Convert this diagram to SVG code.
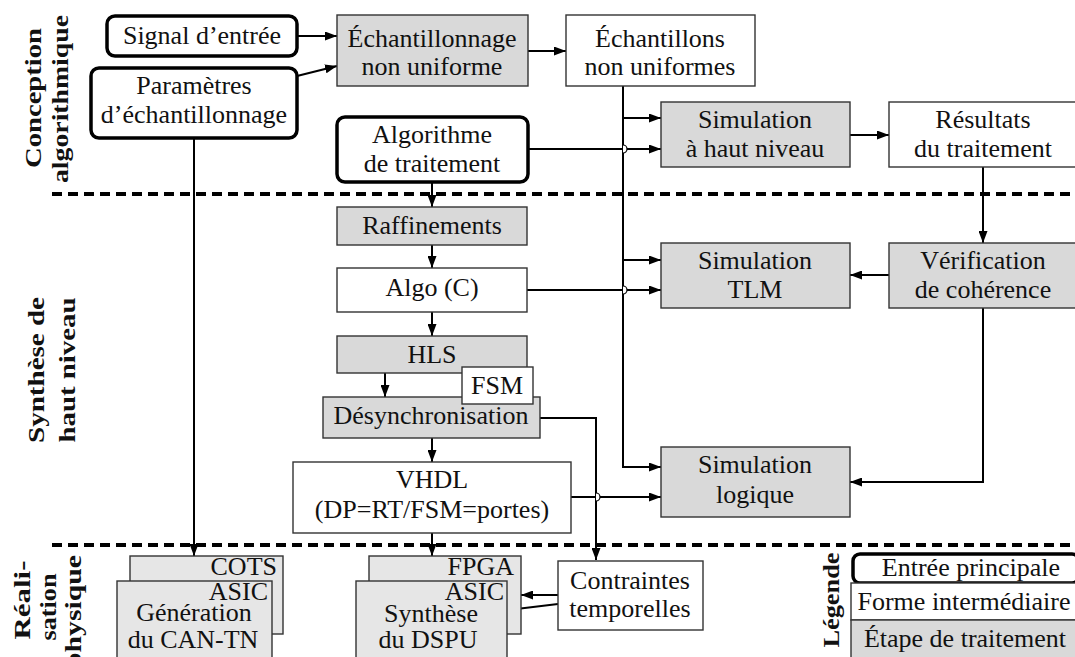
<svg xmlns="http://www.w3.org/2000/svg" width="1075" height="657" viewBox="0 0 1075 657" font-family="'Liberation Serif', 'Times New Roman', serif">
  <style>
    text { font-family: "Liberation Serif", "Times New Roman", serif; font-size: 26px; fill: #111; }
    .c { text-anchor: middle; }
    .r { text-anchor: end; }
    .lbl { font-weight: bold; text-anchor: middle; font-size: 24px; }
    .main { fill: #fff; stroke: #000; stroke-width: 3.5; }
    .inter { fill: #fff; stroke: #333; stroke-width: 1.4; }
    .step { fill: #d9d9d9; stroke: #333; stroke-width: 1.4; }
    .stack { fill: #e6e6e6; stroke: #333; stroke-width: 1.4; }
    .sep { stroke: #000; stroke-width: 4; stroke-dasharray: 10 6; fill: none; }
    .wire { fill: none; stroke: #000; stroke-width: 2; }
    .hop { fill: #fff; stroke: #000; stroke-width: 1.2; }
  </style>
  <defs>
    <marker id="ah" viewBox="0 0 12 9" markerWidth="12" markerHeight="9" refX="12" refY="4.5" orient="auto" markerUnits="userSpaceOnUse">
      <path d="M0,0 L12,4.5 L0,9 z" fill="#000"/>
    </marker>
  </defs>

  <!-- phase separators -->
  <g id="separators">
    <line class="sep" x1="52" y1="194" x2="1075" y2="194"/>
    <line class="sep" x1="52" y1="545" x2="1075" y2="545"/>
  </g>

  <!-- phase labels -->
  <g id="phase-labels">
    <text class="lbl" transform="translate(41,98) rotate(-90)" textLength="140" lengthAdjust="spacingAndGlyphs">Conception</text>
    <text class="lbl" transform="translate(68,99) rotate(-90)" textLength="168" lengthAdjust="spacingAndGlyphs">algorithmique</text>
    <text class="lbl" transform="translate(44,370) rotate(-90)" textLength="146" lengthAdjust="spacingAndGlyphs">Synthèse de</text>
    <text class="lbl" transform="translate(75,370) rotate(-90)" textLength="145" lengthAdjust="spacingAndGlyphs">haut niveau</text>
    <text class="lbl" transform="translate(30,600) rotate(-90)" textLength="79" lengthAdjust="spacingAndGlyphs">Réali-</text>
    <text class="lbl" transform="translate(56,607) rotate(-90)" textLength="67" lengthAdjust="spacingAndGlyphs">sation</text>
    <text class="lbl" transform="translate(81,612) rotate(-90)" textLength="114" lengthAdjust="spacingAndGlyphs">physique</text>
    <text class="lbl" transform="translate(839,600) rotate(-90)" textLength="95" lengthAdjust="spacingAndGlyphs">Légende</text>
  </g>

  <!-- connectors -->
  <g id="connectors">
    <line class="wire" x1="297" y1="36" x2="337" y2="36" marker-end="url(#ah)"/>
    <line class="wire" x1="297" y1="76" x2="337" y2="66" marker-end="url(#ah)"/>
    <line class="wire" x1="528" y1="51" x2="566" y2="51" marker-end="url(#ah)"/>
    <polyline class="wire" points="623,86 623,467 661,467" marker-end="url(#ah)"/>
    <line class="wire" x1="623" y1="118" x2="661" y2="118" marker-end="url(#ah)"/>
    <line class="wire" x1="623" y1="260" x2="661" y2="260" marker-end="url(#ah)"/>
    <line class="wire" x1="528" y1="149" x2="661" y2="149" marker-end="url(#ah)"/>
    <line class="wire" x1="850" y1="135" x2="889" y2="135" marker-end="url(#ah)"/>
    <line class="wire" x1="983" y1="167" x2="983" y2="243" marker-end="url(#ah)"/>
    <line class="wire" x1="889" y1="275" x2="850" y2="275" marker-end="url(#ah)"/>
    <polyline class="wire" points="983,308 983,482 850,482" marker-end="url(#ah)"/>
    <line class="wire" x1="432" y1="183" x2="432" y2="207" marker-end="url(#ah)"/>
    <line class="wire" x1="432" y1="245" x2="432" y2="268" marker-end="url(#ah)"/>
    <line class="wire" x1="527" y1="290" x2="661" y2="290" marker-end="url(#ah)"/>
    <line class="wire" x1="432" y1="312" x2="432" y2="336" marker-end="url(#ah)"/>
    <line class="wire" x1="385" y1="373" x2="385" y2="397" marker-end="url(#ah)"/>
    <polyline class="wire" points="540,418 596,418 596,560" marker-end="url(#ah)"/>
    <line class="wire" x1="432" y1="438" x2="432" y2="462" marker-end="url(#ah)"/>
    <line class="wire" x1="571" y1="497" x2="661" y2="497" marker-end="url(#ah)"/>
    <line class="wire" x1="432" y1="533" x2="432" y2="556" marker-end="url(#ah)"/>
    <line class="wire" x1="194" y1="138" x2="194" y2="556" marker-end="url(#ah)"/>
    <line class="wire" x1="558" y1="595" x2="521" y2="595" marker-end="url(#ah)"/>
    <line class="wire" x1="558" y1="604" x2="508" y2="610" marker-end="url(#ah)"/>
    <!-- line hops at crossings -->
    <path class="hop" d="M623,145 A4,4 0 0 1 623,153"/>
    <path class="hop" d="M623,286 A4,4 0 0 1 623,294"/>
    <path class="hop" d="M596,493 A4,4 0 0 1 596,501"/>
  </g>

  <!-- algorithm design phase -->
  <g id="signal-entree">
    <rect class="main" x="107" y="16" width="190" height="40" rx="8"/>
    <text class="c" x="202" y="44">Signal d’entrée</text>
  </g>
  <g id="parametres">
    <rect class="main" x="91" y="68" width="206" height="70" rx="8"/>
    <text class="c" x="194" y="94">Paramètres</text>
    <text class="c" x="194" y="123">d’échantillonnage</text>
  </g>
  <g id="echantillonnage">
    <rect class="step" x="337" y="15" width="191" height="71"/>
    <text class="c" x="432" y="47">Échantillonnage</text>
    <text class="c" x="432" y="75">non uniforme</text>
  </g>
  <g id="echantillons">
    <rect class="inter" x="566" y="15" width="189" height="71"/>
    <text class="c" x="660" y="47">Échantillons</text>
    <text class="c" x="660" y="75">non uniformes</text>
  </g>
  <g id="algorithme">
    <rect class="main" x="337" y="117" width="191" height="65" rx="8"/>
    <text class="c" x="432" y="143">Algorithme</text>
    <text class="c" x="432" y="172">de traitement</text>
  </g>
  <g id="sim-haut-niveau">
    <rect class="step" x="661" y="102" width="189" height="65"/>
    <text class="c" x="755" y="128">Simulation</text>
    <text class="c" x="755" y="157">à haut niveau</text>
  </g>
  <g id="resultats">
    <rect class="inter" x="889" y="102" width="189" height="65"/>
    <text class="c" x="983" y="128">Résultats</text>
    <text class="c" x="983" y="157">du traitement</text>
  </g>

  <!-- high level synthesis phase -->
  <g id="raffinements">
    <rect class="step" x="337" y="207" width="190" height="38"/>
    <text class="c" x="432" y="234">Raffinements</text>
  </g>
  <g id="algo-c">
    <rect class="inter" x="337" y="268" width="190" height="44"/>
    <text class="c" x="432" y="296">Algo (C)</text>
  </g>
  <g id="hls">
    <rect class="step" x="337" y="336" width="190" height="37"/>
    <text class="c" x="432" y="363">HLS</text>
  </g>
  <g id="desynchronisation">
    <rect class="step" x="323" y="397" width="217" height="41"/>
    <text class="c" x="431" y="424">Désynchronisation</text>
  </g>
  <g id="fsm">
    <rect class="inter" x="462" y="367" width="71" height="37"/>
    <text class="c" x="497" y="394">FSM</text>
  </g>
  <g id="vhdl">
    <rect class="inter" x="293" y="462" width="278" height="71"/>
    <text class="c" x="432" y="488">VHDL</text>
    <text class="c" x="432" y="518">(DP=RT/FSM=portes)</text>
  </g>
  <g id="sim-tlm">
    <rect class="step" x="661" y="243" width="189" height="65"/>
    <text class="c" x="755" y="269">Simulation</text>
    <text class="c" x="755" y="298">TLM</text>
  </g>
  <g id="verification">
    <rect class="step" x="889" y="243" width="189" height="65"/>
    <text class="c" x="983" y="269">Vérification</text>
    <text class="c" x="983" y="298">de cohérence</text>
  </g>
  <g id="sim-logique">
    <rect class="step" x="661" y="447" width="189" height="70"/>
    <text class="c" x="755" y="473">Simulation</text>
    <text class="c" x="755" y="503">logique</text>
  </g>

  <!-- physical realisation phase -->
  <g id="can-tn">
    <rect class="stack" x="130" y="556" width="153" height="78"/>
    <text class="r" x="277" y="575">COTS</text>
    <rect class="stack" x="117" y="581" width="155" height="80"/>
    <text class="r" x="268" y="600">ASIC</text>
    <text class="c" x="194" y="621">Génération</text>
    <text class="c" x="193" y="648">du CAN-TN</text>
  </g>
  <g id="dspu">
    <rect class="stack" x="369" y="556" width="152" height="78"/>
    <text class="r" x="514" y="575">FPGA</text>
    <rect class="stack" x="356" y="581" width="151" height="80"/>
    <text class="r" x="504" y="600">ASIC</text>
    <text class="c" x="431" y="622">Synthèse</text>
    <text class="c" x="428" y="648">du DSPU</text>
  </g>
  <g id="contraintes">
    <rect class="inter" x="558" y="561" width="145" height="69"/>
    <text class="c" x="630" y="589">Contraintes</text>
    <text class="c" x="630" y="617">temporelles</text>
  </g>

  <!-- legend -->
  <g id="legende">
    <rect class="main" x="853" y="554" width="226" height="29" rx="7"/>
    <text class="c" x="971" y="576">Entrée principale</text>
    <rect class="inter" x="851" y="583" width="228" height="37"/>
    <text class="c" x="964" y="610">Forme intermédiaire</text>
    <rect class="step" x="851" y="620" width="228" height="40"/>
    <text class="c" x="965" y="647">Étape de traitement</text>
  </g>
</svg>
